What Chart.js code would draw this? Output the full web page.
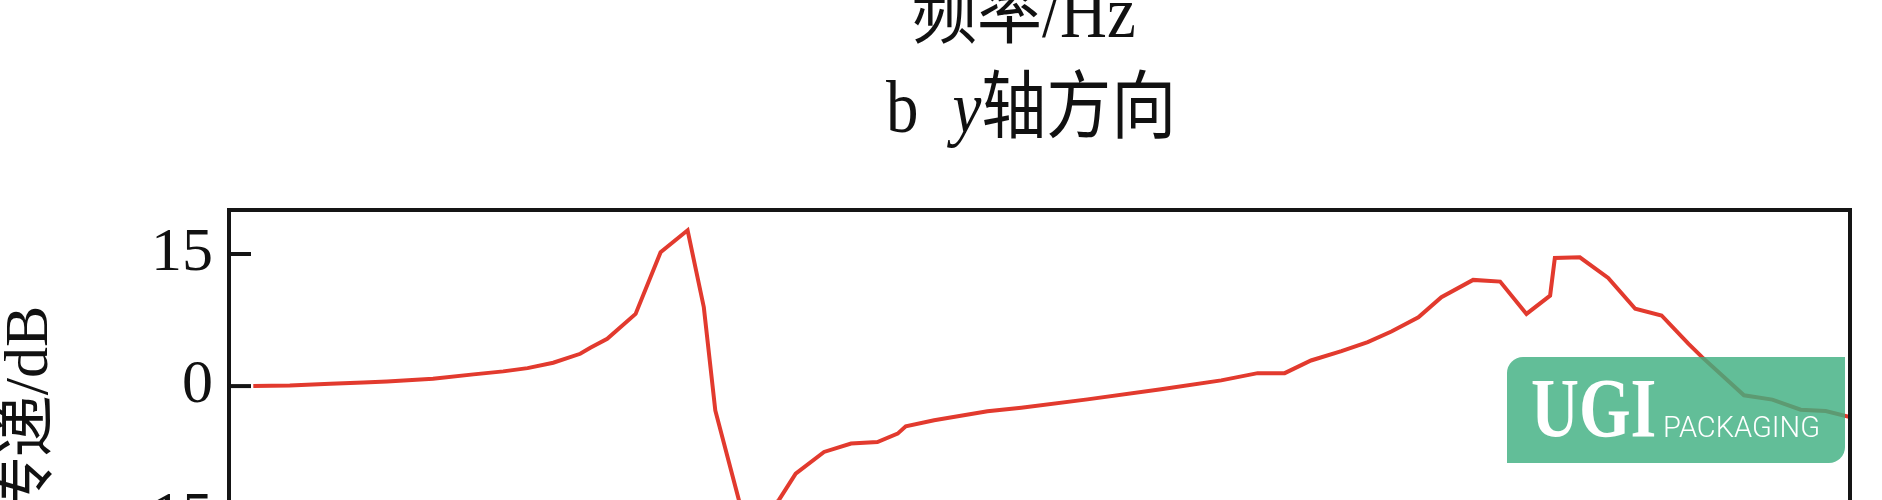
<!DOCTYPE html>
<html>
<head>
<meta charset="utf-8">
<script src="https://cdn.jsdelivr.net/npm/chart.js@4.4.1/dist/chart.umd.min.js"></script>
<style>
    html, body { margin: 0; padding: 0; background: #fff; }
    #wrap { position: relative; width: 1882px; height: 500px; overflow: hidden; }
    #chart { position: absolute; left: 0; top: 0; }
    .cap {
        position: absolute;
        font-family: 'Liberation Serif', 'Noto Sans CJK SC', serif;
        font-size: 65px;
        line-height: 65px;
        color: #111;
        white-space: nowrap;
        transform: scaleY(1.14);
        transform-origin: 0 56px;
    }
    .logo {
        position: absolute;
        left: 1507px; top: 357px; width: 338px; height: 106px;
        background: rgba(64, 176, 129, 0.82);
        border-radius: 16px 0 16px 0;
    }
    .logo .ugi {
        position: absolute; left: 24px; top: 10px;
        font-family: 'Liberation Serif', serif; font-weight: bold;
        font-size: 84px; line-height: 84px; color: #fff;
        transform: scaleX(0.79); transform-origin: left top;
    }
    .logo .pack {
        position: absolute; left: 156px; top: 56px;
        font-family: Roboto, sans-serif; font-weight: 300;
        font-size: 29px; line-height: 29px; color: #fff;
    }
</style>
</head>
<body>
<div id="wrap">
    <canvas id="chart" width="1882" height="715"></canvas>
    <div class="cap" style="left:912px; top:-17px;">频率/Hz</div>
    <div class="cap" style="left:886px; top:78px;">b<span style="padding-left:34px"><i>y</i>轴方向</span></div>
    <div class="logo"><span class="ugi">UGI</span><span class="pack">PACKAGING</span></div>
</div>
<script>
// Data (frequency in Hz, transfer in dB)
const freqs = [
    3.6, 9.0, 15.0, 19.9, 23.4, 30.2, 36.2, 40.6, 44.2, 48.0,
    52.0, 53.5, 56.0, 60.2, 63.9, 67.9, 70.3, 72.0, 75.5, 76.6,
    81.4, 83.9, 88.1, 92.1, 96.0, 99.0, 100.2, 104.4, 112.3, 117.3,
    127.1, 138.0, 146.9, 152.3, 156.3, 160.2, 164.7, 168.6, 172.1, 176.1,
    179.5, 184.2, 188.2, 192.1, 195.6, 196.3, 200.0, 204.2, 208.2, 212.1,
    216.1, 218.1, 224.3, 228.5, 232.7, 236.4, 240.0
];
const transferDb = [
    0.0, 0.07, 0.27, 0.42, 0.53, 0.83, 1.33, 1.67, 2.04, 2.65,
    3.67, 4.35, 5.37, 8.2, 15.2, 17.7, 8.96, -2.76, -12.96, -16.5,
    -12.96, -9.94, -7.48, -6.53, -6.35, -5.4, -4.57, -3.89, -2.87, -2.45,
    -1.51, -0.37, 0.65, 1.47, 1.47, 2.91, 3.97, 4.99, 6.2, 7.82,
    10.09, 12.06, 11.87, 8.2, 10.28, 14.56, 14.63, 12.29, 8.78, 8.02,
    4.8, 3.29, -1.05, -1.54, -2.68, -2.83, -3.51
];
const yTicks = [-15, 0, 15];

const points = freqs.map((f, i) => ({ x: f, y: transferDb[i] }));

// Frame around the plot and inward ticks
const framePlugin = {
    id: 'frame',
    afterDraw(chart) {
        const { ctx, chartArea } = chart;
        const yScale = chart.scales.y;
        ctx.save();
        ctx.strokeStyle = '#151515';
        ctx.lineWidth = 4;
        ctx.strokeRect(chartArea.left, chartArea.top,
            chartArea.right - chartArea.left, chartArea.bottom - chartArea.top);
        yTicks.forEach(v => {
            const py = yScale.getPixelForValue(v);
            ctx.beginPath();
            ctx.moveTo(chartArea.left, py);
            ctx.lineTo(chartArea.left + 22, py);
            ctx.stroke();
        });
        ctx.restore();
    }
};

const ctx = document.getElementById('chart').getContext('2d');
new Chart(ctx, {
    type: 'line',
    data: {
        datasets: [{
            data: points,
            borderColor: 'rgb(226, 58, 46)',
            borderWidth: 4,
            pointRadius: 0,
            tension: 0,
            fill: false
        }]
    },
    options: {
        responsive: false,
        animation: false,
        devicePixelRatio: 1,
        layout: { padding: { left: 0, top: 210, right: 32, bottom: 100 } },
        plugins: {
            legend: { display: false },
            tooltip: { enabled: false }
        },
        scales: {
            x: {
                type: 'linear',
                min: 0,
                max: 240,
                display: false
            },
            y: {
                min: -26,
                max: 20,
                afterFit: scale => { scale.width = 229; },
                afterBuildTicks: scale => { scale.ticks = yTicks.map(v => ({ value: v })); },
                grid: { display: false, drawTicks: false },
                border: { display: false },
                ticks: {
                    padding: 16,
                    color: '#111',
                    font: { family: "'Liberation Serif', serif", size: 62 }
                },
                title: {
                    display: true,
                    text: '传递/dB',
                    color: '#111',
                    padding: 0,
                    font: { family: "'Liberation Serif', 'Noto Sans CJK SC', serif", size: 62, lineHeight: 1 }
                }
            }
        }
    },
    plugins: [framePlugin]
});
</script>
</body>
</html>
